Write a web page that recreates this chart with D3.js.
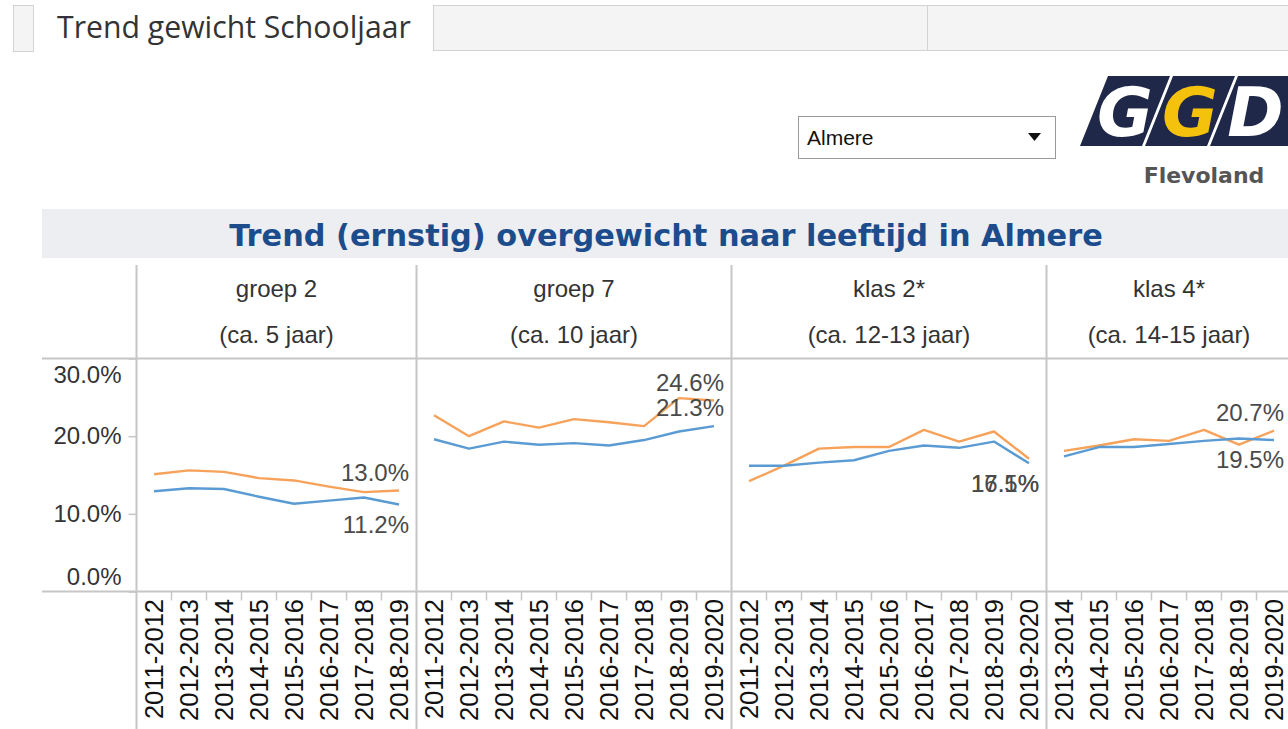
<!DOCTYPE html>
<html>
<head>
<meta charset="utf-8">
<script src="https://cdn.jsdelivr.net/npm/d3@7"></script>
<style>
  body { margin: 0; background: #fff; }
  svg { display: block; }
  text { font-family: "Liberation Sans", Arial, sans-serif; }
</style>
</head>
<body>
<svg id="chart"></svg>
<script>
// data
const panelNames = ["groep 2", "groep 7", "klas 2*", "klas 4*"];
const panelAges = ["(ca. 5 jaar)", "(ca. 10 jaar)", "(ca. 12-13 jaar)", "(ca. 14-15 jaar)"];
const panelYears = [
  ["2011-2012", "2012-2013", "2013-2014", "2014-2015", "2015-2016", "2016-2017", "2017-2018", "2018-2019"],
  ["2011-2012", "2012-2013", "2013-2014", "2014-2015", "2015-2016", "2016-2017", "2017-2018", "2018-2019", "2019-2020"],
  ["2011-2012", "2012-2013", "2013-2014", "2014-2015", "2015-2016", "2016-2017", "2017-2018", "2018-2019", "2019-2020"],
  ["2013-2014", "2014-2015", "2015-2016", "2016-2017", "2017-2018", "2018-2019", "2019-2020"]
];
const oranje = [
  [15.1, 15.6, 15.4, 14.6, 14.3, 13.5, 12.8, 13.0],
  [22.7, 20.0, 21.9, 21.1, 22.2, 21.8, 21.3, 24.9, 24.6],
  [14.2, 16.2, 18.4, 18.6, 18.6, 20.8, 19.3, 20.6, 17.1],
  [18.1, 18.8, 19.6, 19.4, 20.8, 18.9, 20.7]
];
const blauw = [
  [12.9, 13.3, 13.2, 12.2, 11.3, 11.7, 12.1, 11.2],
  [19.6, 18.4, 19.3, 18.9, 19.1, 18.8, 19.5, 20.6, 21.3],
  [16.2, 16.2, 16.6, 16.9, 18.1, 18.8, 18.5, 19.3, 16.5],
  [17.4, 18.6, 18.6, 19.0, 19.4, 19.7, 19.5]
];
const yTicks = [0, 10, 20, 30];
// where the end label sits: [oranje, blauw]
const labelSide = [["above", "below"], ["above", "above"], ["below", "below"], ["above", "below"]];

const W = 1288, H = 729;
const svg = d3.select("#chart").attr("width", W).attr("height", H);

const gridColor = "#c6c6c6";
const orangeColor = "#f6a25a";
const blueColor = "#5b9bd3";
const textColor = "#333";

// ---- tabs
svg.append("rect").attr("x", 13.5).attr("y", 5.5).attr("width", 20).attr("height", 46)
  .attr("fill", "#f4f4f4").attr("stroke", "#d3d3d3");
svg.append("rect").attr("x", 433.5).attr("y", 5.5).attr("width", 860).attr("height", 45)
  .attr("fill", "#f4f4f4").attr("stroke", "#d3d3d3");
svg.append("line").attr("x1", 927.5).attr("x2", 927.5).attr("y1", 5).attr("y2", 50)
  .attr("stroke", "#d3d3d3");
const tabText = svg.append("text").attr("x", 57).attr("y", 38)
  .style("font-family", "'Open Sans', sans-serif").style("font-size", "26px")
  .attr("fill", textColor).text("Trend gewicht Schooljaar");
let tl = tabText.node().getComputedTextLength();
tabText.style("font-size", (26 * 354 / tl) + "px");

// ---- dropdown
svg.append("rect").attr("x", 798.5).attr("y", 116.5).attr("width", 257).attr("height", 42)
  .attr("fill", "#fff").attr("stroke", "#9a9a9a");
svg.append("text").attr("x", 807).attr("y", 145).style("font-size", "21px")
  .attr("fill", "#111").text("Almere");
svg.append("path").attr("d", "M1028,133 L1041,133 L1034.5,141 Z").attr("fill", "#111");

// ---- logo
const logo = svg.append("g");
const sections = [[1108, 1170, 1080, 1142], [1173, 1235, 1145, 1207], [1238, 1310, 1210, 1288]];
sections.forEach(s => {
  logo.append("path")
    .attr("d", `M${s[0]},76 L${s[1]},76 L${s[3]},146 L${s[2]},146 Z`)
    .attr("fill", "#1f2848");
});
const logoLetters = ["G", "G", "D"];
const logoColors = ["#fff", "#f4c20d", "#fff"];
logoLetters.forEach((l, i) => {
  const s = sections[i];
  logo.append("text")
    .attr("x", (s[0] + s[1] + s[2] + s[3]) / 4 + (i == 2 ? -6 : 0)).attr("y", 136)
    .attr("text-anchor", "middle")
    .style("font-family", "'DejaVu Sans', sans-serif").style("font-weight", "bold")
    .style("font-style", "italic").style("font-size", "68px")
    .attr("fill", logoColors[i]).text(l);
});
svg.append("text").attr("x", 1204).attr("y", 183).attr("text-anchor", "middle")
  .style("font-family", "'DejaVu Sans', sans-serif").style("font-weight", "bold")
  .style("font-size", "22px").attr("fill", "#555").text("Flevoland");

// ---- title band
svg.append("rect").attr("x", 42).attr("y", 209).attr("width", W - 42).attr("height", 49)
  .attr("fill", "#eceef1");
const title = svg.append("text").attr("x", 666).attr("y", 246).attr("text-anchor", "middle")
  .style("font-family", "'DejaVu Sans', Verdana, sans-serif").style("font-weight", "bold")
  .style("font-size", "27px").attr("fill", "#1c4c8c")
  .text("Trend (ernstig) overgewicht naar leeftijd in Almere");
tl = title.node().getComputedTextLength();
title.style("font-size", (27 * 874 / tl) + "px");

// ---- panels
const bandW = 35;
const plotLeft = 136.5, headTop = 265, plotTop = 358.5, plotBottom = 591.5;
const y = d3.scaleLinear().domain([0, 30]).range([plotBottom, plotTop]);

let x0 = plotLeft;
const panelX = panelYears.map(ys => { const s = x0; x0 += ys.length * bandW; return s; });

// horizontal rules
[plotTop, plotBottom].forEach(yy => {
  svg.append("line").attr("x1", 42).attr("x2", W).attr("y1", yy).attr("y2", yy)
    .attr("stroke", gridColor).attr("stroke-width", 2);
});

// y axis
const yAxis = svg.append("g").attr("transform", `translate(${plotLeft},0)`)
  .call(d3.axisLeft(y).tickValues(yTicks).tickSize(8).tickFormat(d => d.toFixed(1) + "%"));
yAxis.select(".domain").remove();
yAxis.selectAll(".tick line").attr("stroke", gridColor).attr("stroke-width", 1.5);
yAxis.selectAll(".tick text")
  .attr("x", -15).attr("fill", textColor)
  .style("font-family", "'Liberation Sans', Arial, sans-serif").style("font-size", "24px")
  .attr("dy", d => d == 30 ? "1.0em" : (d == 0 ? "-0.3em" : "0.32em"));

panelNames.forEach((name, p) => {
  const years = panelYears[p];
  const x = d3.scaleBand().domain(years).range([panelX[p], panelX[p] + years.length * bandW]);
  const g = svg.append("g");

  // panel left border
  g.append("line").attr("x1", panelX[p]).attr("x2", panelX[p]).attr("y1", headTop).attr("y2", H)
    .attr("stroke", gridColor).attr("stroke-width", 2);

  // header
  const cx = panelX[p] + years.length * bandW / 2;
  g.append("text").attr("x", cx).attr("y", 297).attr("text-anchor", "middle")
    .style("font-size", "24px").attr("fill", textColor).text(name);
  g.append("text").attr("x", cx).attr("y", 343).attr("text-anchor", "middle")
    .style("font-size", "24px").attr("fill", textColor).text(panelAges[p]);

  // x ticks at band boundaries
  g.selectAll(".xt").data(years.slice(1)).join("line")
    .attr("x1", d => x(d)).attr("x2", d => x(d))
    .attr("y1", plotBottom).attr("y2", plotBottom + 9)
    .attr("stroke", gridColor).attr("stroke-width", 1.5);

  // x labels
  g.selectAll(".xl").data(years).join("text")
    .attr("transform", d => `translate(${x(d) + x.bandwidth() / 2},599) rotate(-90)`)
    .attr("dy", "0.36em").attr("text-anchor", "end")
    .style("font-size", "25.5px").attr("fill", "#111").text(d => d);

  // lines
  const line = d3.line().x((d, i) => x(years[i]) + x.bandwidth() / 2).y(d => y(d));
  [[oranje[p], orangeColor], [blauw[p], blueColor]].forEach(([vals, col]) => {
    g.append("path").datum(vals).attr("d", line)
      .attr("fill", "none").attr("stroke", col).attr("stroke-width", 2.4)
      .attr("stroke-linejoin", "round");
  });

  // end labels (a shared "below" sits under the lower of the two end points)
  const lastO = oranje[p][oranje[p].length - 1];
  const lastB = blauw[p][blauw[p].length - 1];
  const lowest = Math.min(lastO, lastB);
  [lastO, lastB].forEach((last, s) => {
    const lx = x(years[years.length - 1]) + x.bandwidth() / 2 + 10;
    const ly = labelSide[p][s] == "above" ? y(last) - 18 : y(lowest) + 20;
    g.append("text").attr("x", lx).attr("y", ly).attr("dy", "0.35em").attr("text-anchor", "end")
      .style("font-size", "24px").attr("fill", "#4a4a4a").text(last.toFixed(1) + "%");
  });
});
</script>
</body>
</html>
